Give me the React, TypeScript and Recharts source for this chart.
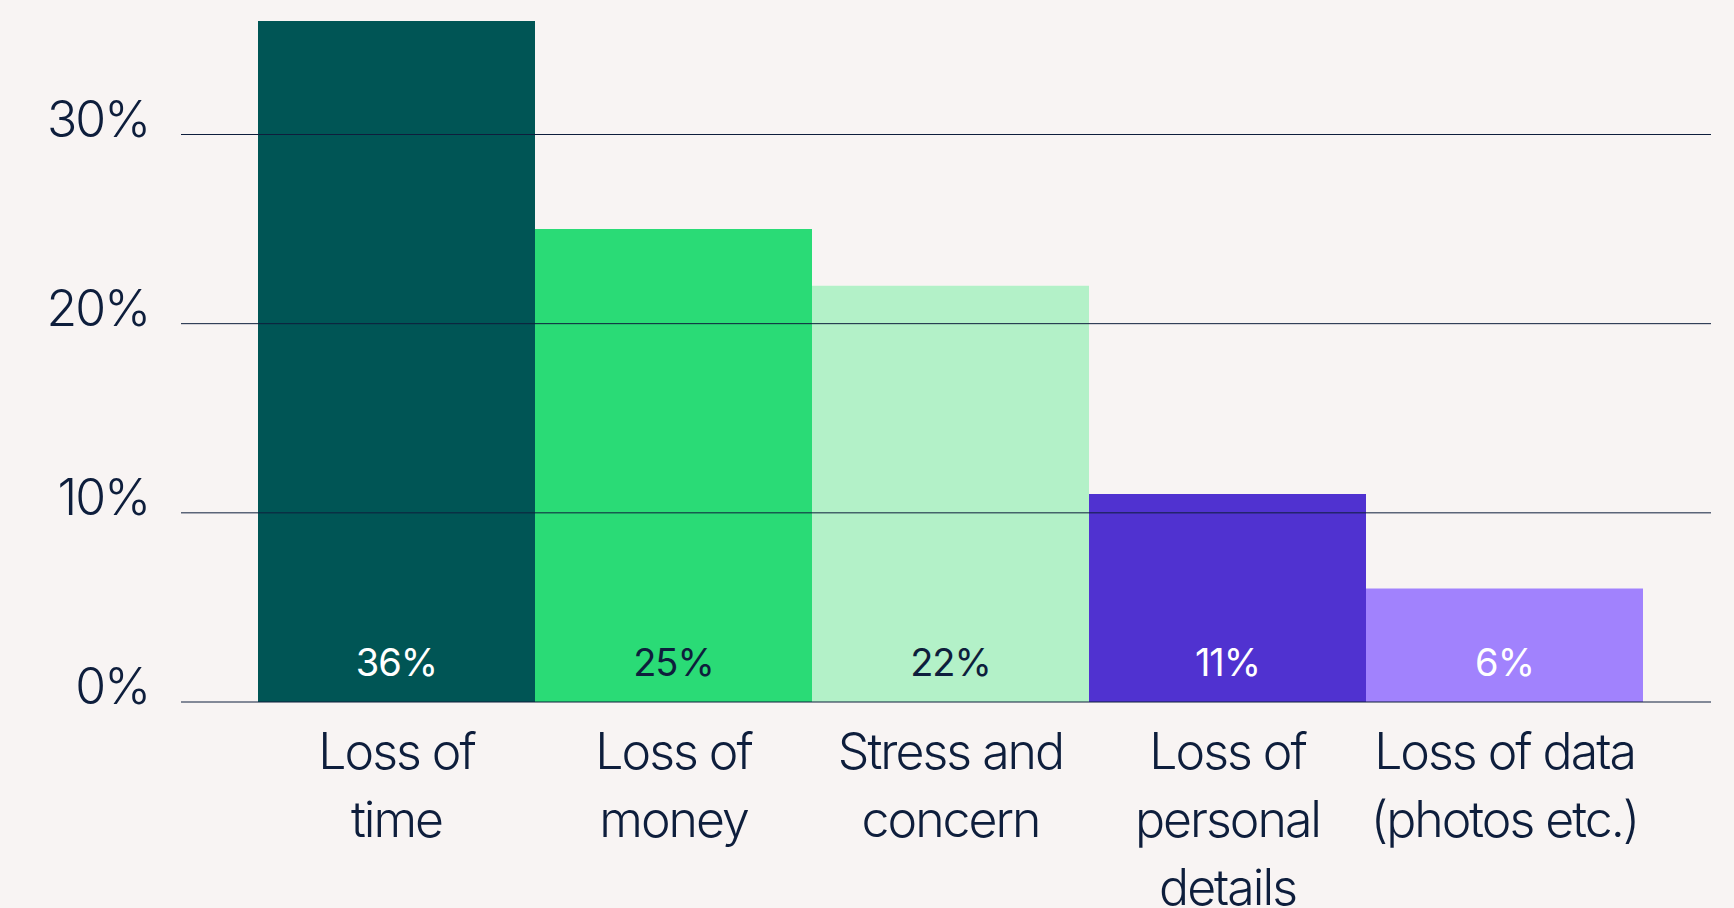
import React from "react";
import { Bar, BarChart, Cell, LabelList, ReferenceLine, XAxis, YAxis } from "recharts";

const categories = [
  "Loss of|time",
  "Loss of|money",
  "Stress and|concern",
  "Loss of|personal|details",
  "Loss of data|(photos etc.)",
];
const shares = [36, 25, 22, 11, 6];
const barColors = ["#005555", "#2adb76", "#b3f1c8", "#5032d0", "#a182fd"];
const labelColors = ["#ffffff", "#0e1e3c", "#0e1e3c", "#ffffff", "#ffffff"];
const yTicks = [0, 10, 20, 30];

const data = categories.map((name, i) => ({ name, value: shares[i] }));

const INK = "#0e1e3c";
const FONT = "Inter, 'Noto Sans', sans-serif";

function YTick(props: any) {
  const { x, y, payload } = props;
  return (
    <text x={x - 24} y={y + 2} textAnchor="end" fill={INK} fontFamily={FONT} fontWeight={300} fontSize={50} letterSpacing={-2}>
      {payload.value}%
    </text>
  );
}

function XTick(props: any) {
  const { x, y, payload } = props;
  const lines = String(payload.value).split("|");
  return (
    <text x={x} y={y} textAnchor="middle" fill={INK} fontFamily={FONT} fontWeight={300} fontSize={50} letterSpacing={-2}>
      {lines.map((line, i) => (
        <tspan key={i} x={x} y={y + 59 + i * 68}>
          {line}
        </tspan>
      ))}
    </text>
  );
}

function ValueLabel(props: any) {
  const { x, y, width, height, value, index } = props;
  return (
    <text
      x={x + width / 2}
      y={y + height - 26}
      textAnchor="middle"
      fill={labelColors[index]}
      fontFamily={FONT}
      fontWeight={400}
      fontSize={38}
      letterSpacing={-1}
    >
      {value}%
    </text>
  );
}

export default function App() {
  return (
    <div style={{ position: "absolute", left: 0, top: 0, width: 1734, height: 908, background: "#f8f4f3", overflow: "hidden" }}>
      <BarChart
        width={1734}
        height={908}
        data={data}
        margin={{ top: 21, right: 23, left: 0, bottom: 0 }}
        barCategoryGap={0}
      >
        <XAxis
          dataKey="name"
          axisLine={false}
          tickLine={false}
          height={206}
          interval={0}
          padding={{ left: 77, right: 68 }}
          tick={<XTick />}
        />
        <YAxis
          domain={[0, 36]}
          ticks={yTicks}
          axisLine={false}
          tickLine={false}
          width={181}
          tick={<YTick />}
        />
        <Bar dataKey="value" isAnimationActive={false}>
          {data.map((d, i) => (
            <Cell key={d.name} fill={barColors[i]} />
          ))}
          <LabelList dataKey="value" content={<ValueLabel />} />
        </Bar>
        {yTicks.map((t) => (
          <ReferenceLine key={t} y={t} stroke={INK} strokeWidth={1} />
        ))}
      </BarChart>
    </div>
  );
}
